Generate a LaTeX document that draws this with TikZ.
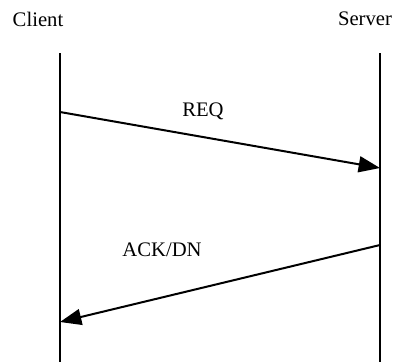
\documentclass[tikz,border=0pt]{standalone}
\usepackage{fontspec}
\setmainfont{Liberation Serif}
\usetikzlibrary{arrows.meta}
\begin{document}
\begin{tikzpicture}[x=0.75pt,y=-0.75pt,
  lifeline/.style={line width=1.2pt},
  msg/.style={line width=1.5pt,-{Triangle[length=16pt,width=12pt]}},
  lbl/.style={font=\fontsize{15.5}{18}\selectfont,inner sep=0pt}]
\useasboundingbox (0,0) rectangle (393,362);
% participants
\node[lbl] (client) at (38,19) {Client};
\node[lbl] (server) at (365,19) {Server};
% lifelines
\coordinate (ctop) at (60,53);
\coordinate (cbot) at (60,362);
\coordinate (stop) at (380,53);
\coordinate (sbot) at (380,362);
\draw[lifeline] (ctop) -- (cbot);
\draw[lifeline] (stop) -- (sbot);
% messages
\coordinate (reqA) at (60,112);
\coordinate (reqB) at (380,168);
\coordinate (ackA) at (380,245);
\coordinate (ackB) at (60,322);
\draw[msg] (reqA) -- (reqB);
\draw[msg] (ackA) -- (ackB);
\node[lbl] (req) at (203,111) {REQ};
\node[lbl] (ack) at (162,250) {ACK/DN};
\end{tikzpicture}
\end{document}
